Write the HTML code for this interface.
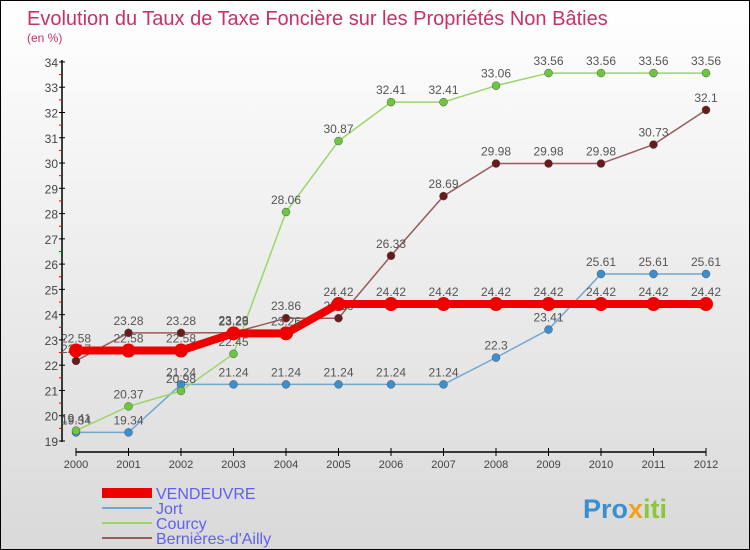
<!DOCTYPE html>
<html><head><meta charset="utf-8"><style>
body{margin:0;}
#wrap{position:relative;width:750px;height:550px;box-sizing:border-box;border:1px solid #000;background:linear-gradient(#ffffff,#d9d9d9);font-family:"Liberation Sans",sans-serif;overflow:hidden}
</style></head><body>
<div id="wrap">
<svg id="c" width="750" height="550">
<text x="26" y="24" font-size="20" fill="#c8306a">Evolution du Taux de Taxe Foncière sur les Propriétés Non Bâties</text>
<text x="26" y="41" font-size="12" fill="#c8306a">(en %)</text>
<g id="axes"></g><g id="series"></g><g id="legend"></g>
<text x="582" y="517" font-size="27" font-weight="bold" fill="#3a8fd0">Pro<tspan fill="#f0a020">x</tspan><tspan fill="#8cc63f">iti</tspan></text>
</svg>
</div>
<script>
const years=[2000,2001,2002,2003,2004,2005,2006,2007,2008,2009,2010,2011,2012];
const vendeuvre=[22.58,22.58,22.58,23.26,23.26,24.42,24.42,24.42,24.42,24.42,24.42,24.42,24.42];
const jort=[19.34,19.34,21.24,21.24,21.24,21.24,21.24,21.24,22.3,23.41,25.61,25.61,25.61];
const courcy=[19.41,20.37,20.98,22.45,28.06,30.87,32.41,32.41,33.06,33.56,33.56,33.56,33.56];
const bernieres=[22.17,23.28,23.28,23.29,23.86,23.86,26.33,28.69,29.98,29.98,29.98,30.73,32.1];
const yTicks=[19,20,21,22,23,24,25,26,27,28,29,30,31,32,33,34];
const NS="http://www.w3.org/2000/svg";
const X=i=>75+i*52.5, Y=v=>440-(v-19)*25.27;
function mk(t,a,p){const e=document.createElementNS(NS,t);for(const k in a)e.setAttribute(k,a[k]);p.appendChild(e);return e;}
const ax=document.getElementById('axes');
let yl=mk('line',{x1:61,y1:Y(34)-2,x2:61,y2:441,stroke:'#000','stroke-width':1.5},ax);


let xl=mk('line',{x1:75,y1:451,x2:705,y2:451,stroke:'#000','stroke-width':1.5},ax);


yTicks.forEach(v=>{
 mk('line',{x1:58,y1:Y(v),x2:64,y2:Y(v),stroke:'#000'},ax);
 if(v<34)mk('line',{x1:58,y1:Y(v+0.5),x2:61,y2:Y(v+0.5),stroke:'#e00'},ax);
 const t=mk('text',{x:57,y:Y(v)+5,'font-size':12,'text-anchor':'end',fill:'#444'},ax);t.textContent=v;
 
 
});
years.forEach((y,i)=>{
 mk('line',{x1:X(i),y1:447,x2:X(i),y2:455,stroke:'#000'},ax);
 const t=mk('text',{x:X(i),y:467,'font-size':11,'text-anchor':'middle',fill:'#444'},ax);t.textContent=y;
 
 
});
const sg=document.getElementById('series');
const defs=[[jort,'#6fa8cf','#3a8fd0',1.5,4,'jort'],[courcy,'#9ad66a','#6cc63f',1.5,4,'courcy'],[bernieres,'#9a5a5a','#6a1a1a',1.5,4,'bernieres'],[vendeuvre,'#ee0000','#ee0000',8,7,'vendeuvre']];
defs.forEach(([d,lc,pc,w,r,n])=>{
 const g=mk('g',{},sg);
 
 
 const p=mk('polyline',{points:d.map((v,i)=>X(i)+','+Y(v)).join(' '),fill:'none',stroke:lc,'stroke-width':w},g);
 
 
 d.forEach((v,i)=>{
  const c=mk('circle',{cx:X(i),cy:Y(v),r:r,fill:pc,stroke:n=='vendeuvre'?'none':'#555','stroke-width':0.5},g);
  
  
  const t=mk('text',{x:X(i),y:Y(v)-8,'font-size':12,'text-anchor':'middle',fill:'#555'},g);t.textContent=v;
  
  
 });
});
const lg=document.getElementById('legend');
[['VENDEUVRE','#ee0000',10],['Jort','#6fa8cf',2],['Courcy','#9ad66a',2],['Bernières-d\'Ailly','#9a5a5a',2]].forEach(([n,c,w],i)=>{
 const y=492+i*15;
 const g=mk('g',{},lg);
 
 
 mk('line',{x1:101,y1:y,x2:151,y2:y,stroke:c,'stroke-width':w},g);
 const t=mk('text',{x:155,y:y+6,'font-size':16,fill:'#6060ee'},g);t.textContent=n;
});
</script>
</body></html>
